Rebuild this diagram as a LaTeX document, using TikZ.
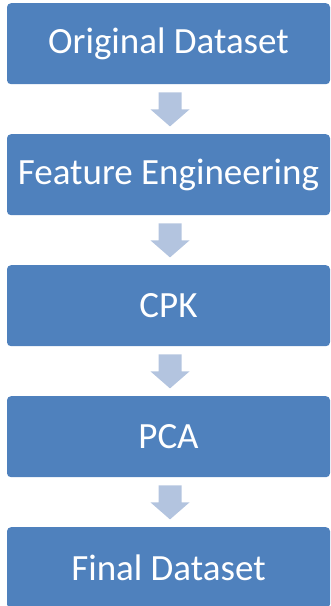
\documentclass[tikz,border=0pt]{standalone}
\usepackage{fontspec}
\setmainfont{Carlito}
\usetikzlibrary{calc}
\definecolor{boxblue}{HTML}{4F81BD}
\definecolor{arrowblue}{HTML}{B3C4DF}
\tikzset{
  stepbox/.style={fill=boxblue, draw=none, rounded corners=4pt, minimum width=323pt, minimum height=81pt, text=white, font=\fontsize{37}{40}\selectfont, inner sep=0pt, anchor=north},
  flowarrow/.style={fill=arrowblue, draw=none}
}
\newcommand{\flowarr}[1]{%
  \fill[flowarrow] ($(#1.south)+(-10,-8)$) -- ($(#1.south)+(13,-8)$) -- ($(#1.south)+(13,-25)$) -- ($(#1.south)+(21,-25)$) -- ($(#1.south)+(1.5,-42)$) -- ($(#1.south)+(-18,-25)$) -- ($(#1.south)+(-10,-25)$) -- cycle;}
\begin{document}
\begin{tikzpicture}[x=1pt,y=1pt]
\useasboundingbox (0,0) rectangle (331,-606);
\node[stepbox] (a) at (168.5,-3) {Original Dataset};
\node[stepbox] (b) at (168.5,-134) {Feature Engineering};
\node[stepbox] (c) at (168.5,-265) {CPK};
\node[stepbox] (d) at (168.5,-396) {PCA};
\node[stepbox] (e) at (168.5,-527) {Final Dataset};
\flowarr{a}
\flowarr{b}
\flowarr{c}
\flowarr{d}
\end{tikzpicture}
\end{document}
